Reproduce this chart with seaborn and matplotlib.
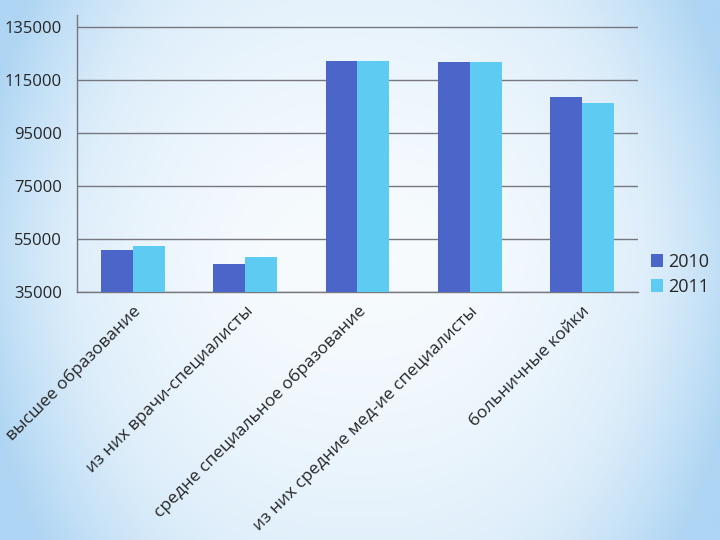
import numpy as np
import pandas as pd
import seaborn as sns
import matplotlib.pyplot as plt
from matplotlib.colors import LinearSegmentedColormap

categories = ["высшее образование", "из них врачи-специалисты",
              "средне специальное образование", "из них средние мед-ие специалисты",
              "больничные койки"]
years = ["2010", "2011"]
vals_2010 = [50800, 45600, 122200, 121900, 108600]
vals_2011 = [52300, 48300, 122200, 121900, 106300]

df = pd.DataFrame({
    "cat": categories * 2,
    "year": [years[0]] * 5 + [years[1]] * 5,
    "value": vals_2010 + vals_2011,
})

sns.set_style("white")
plt.rcParams['font.family'] = ['Open Sans', 'DejaVu Sans']

fig = plt.figure(figsize=(7.2, 5.4), dpi=100)

# background gradient
bg = fig.add_axes([0, 0, 1, 1], zorder=-10)
xx, yy = np.meshgrid(np.linspace(-1, 1, 400), np.linspace(-1, 1, 300))
f = np.clip(0.8 * np.abs(xx) ** 2.4 + 0.35 * np.abs(yy + 0.05) ** 1.6, 0, 1)
cmap = LinearSegmentedColormap.from_list("bg", ["#f7fbfe", "#dcedfa", "#aed5f3"])
bg.imshow(f, cmap=cmap, aspect="auto", extent=[0, 1, 0, 1], vmin=0, vmax=1)
bg.axis("off")

ax = fig.add_axes([0.107, 0.459, 0.779, 0.513])
ax.patch.set_alpha(0)
sns.barplot(data=df, x="cat", y="value", hue="year", ax=ax, width=0.57,
            palette=["#4B66C8", "#5ECCF2"], saturation=1, errorbar=None, zorder=3,
            linewidth=0)

ax.set_ylim(35000, 139500)
ax.set_yticks(range(35000, 135001, 20000))
ax.set_yticklabels([str(v) for v in range(35000, 135001, 20000)], fontsize=12)
ax.yaxis.grid(True, color="#777780", linewidth=1)
ax.set_axisbelow(True)
ax.tick_params(axis="y", length=0, pad=11)

ax.set_xlim(-0.5, 4.5)
ax.set_xticks(range(5))
ax.set_xticklabels(categories, rotation=45, ha="right", rotation_mode="anchor", fontsize=12.5)
ax.tick_params(axis="x", length=0, pad=8)
ax.set_xticks(np.arange(-0.5, 5, 1), minor=True)
ax.tick_params(axis="x", which="minor", length=5, color="#777780", width=1, direction="out")

for s in ["top", "right"]:
    ax.spines[s].set_visible(False)
for s in ["left", "bottom"]:
    ax.spines[s].set_color("#777780")
    ax.spines[s].set_linewidth(1)

ax.set_xlabel("")
ax.set_ylabel("")
ax.legend(loc="center left", bbox_to_anchor=(1.0, 0.065), frameon=False, fontsize=13,
          handlelength=0.7, handleheight=0.7, handletextpad=0.3, labelspacing=0.4,
          borderpad=0.2)

fig.savefig("out.png", dpi=100)
